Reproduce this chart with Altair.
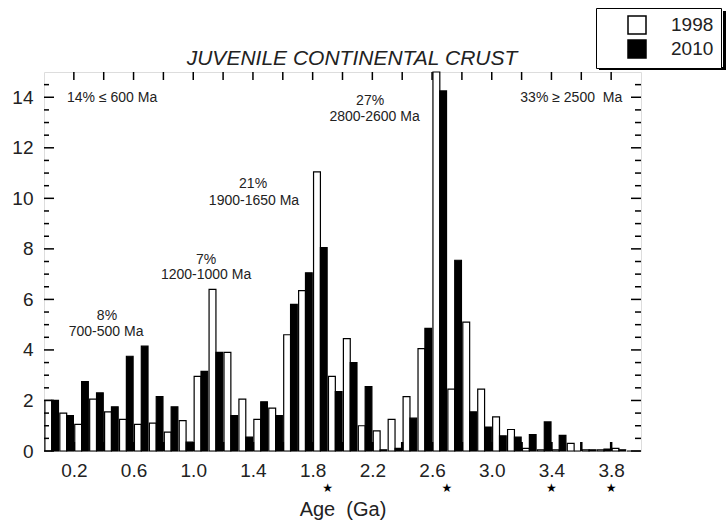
import altair as alt
import pandas as pd

# ---- data ----
bin_start = [0.0, 0.1, 0.2, 0.3, 0.4, 0.5, 0.6, 0.7, 0.8, 0.9,
             1.0, 1.1, 1.2, 1.3, 1.4, 1.5, 1.6, 1.7, 1.8, 1.9,
             2.0, 2.1, 2.2, 2.3, 2.4, 2.5, 2.6, 2.7, 2.8, 2.9,
             3.0, 3.1, 3.2, 3.3, 3.4, 3.5, 3.6, 3.7, 3.8, 3.9]
v1998 = [2.0, 1.5, 1.05, 2.05, 1.55, 1.25, 1.05, 1.1, 0.75, 1.2,
         2.95, 6.4, 3.9, 2.05, 1.25, 1.7, 4.6, 6.35, 11.05, 2.95,
         4.45, 1.0, 0.8, 1.25, 2.15, 4.05, 15.0, 2.45, 5.1, 2.45,
         1.35, 0.85, 0.1, 0.05, 0.05, 0.3, 0.05, 0.05, 0.1, 0.0]
v2010 = [2.0, 1.4, 2.75, 2.3, 1.75, 3.75, 4.15, 2.15, 1.75, 0.35,
         3.15, 3.9, 1.4, 0.55, 1.95, 1.4, 5.8, 7.05, 8.05, 2.35,
         3.5, 2.55, 0.05, 0.1, 1.3, 4.85, 14.25, 7.55, 1.55, 0.95,
         0.6, 0.55, 0.65, 1.15, 0.62, 0.0, 0.05, 0.08, 0.05, 0.0]
series_names = ["1998", "2010"]

x_tick_labels = [0.2, 0.6, 1.0, 1.4, 1.8, 2.2, 2.6, 3.0, 3.4, 3.8]
x_ticks = [0.2, 0.4, 0.6, 0.8, 1.0, 1.2, 1.4, 1.6, 1.8, 2.0,
           2.2, 2.4, 2.6, 2.8, 3.0, 3.2, 3.4, 3.6, 3.8]
y_major = [0, 2, 4, 6, 8, 10, 12, 14]
y_minor = [0.5, 1, 1.5, 2.5, 3, 3.5, 4.5, 5, 5.5, 6.5, 7, 7.5, 8.5, 9, 9.5,
           10.5, 11, 11.5, 12.5, 13, 13.5, 14.5]

title_text = "JUVENILE CONTINENTAL CRUST"
x_title = "Age\u00a0\u00a0(Ga)"

ann_text = ["14% \u2264 600 Ma", "8%", "700-500 Ma", "7%", "1200-1000 Ma",
            "21%", "1900-1650 Ma", "27%", "2800-2600 Ma"]
ann_x = [0.154, 0.422, 0.416, 1.086, 1.086, 1.401, 1.407, 2.185, 2.215]
ann_y = [13.98, 5.33, 4.70, 7.56, 6.95, 10.55, 9.88, 13.84, 13.21]
ann_align = ["left", "center", "center", "center", "center",
             "center", "center", "center", "center"]
ann_right_text = ["33% \u2265 2500\u00a0\u00a0Ma"]
ann_right_x = [3.874]
ann_right_y = [13.98]

star_x = [1.9, 2.7, 3.4, 3.8]

W, H = 597, 379
FONT = "Liberation Sans"
INK = "#222"

rows = []
for b, a, c in zip(bin_start, v1998, v2010):
    rows.append({"bin": b, "series": series_names[0], "value": a})
    rows.append({"bin": b, "series": series_names[1], "value": c})
df = pd.DataFrame(rows)

xs = alt.Scale(domain=[0, 4.0], nice=False, zero=False)
ys = alt.Scale(domain=[0, 15], nice=False)

bars = alt.Chart(df).transform_calculate(
    x0="datum.series == '1998' ? datum.bin + 0.006 : datum.bin + 0.052",
    x1="datum.series == '1998' ? datum.bin + 0.052 : datum.bin + 0.097",
).mark_rect(stroke="black", strokeWidth=1.2).encode(
    x=alt.X("x0:Q", scale=xs, title=x_title,
            axis=alt.Axis(values=x_tick_labels, format=".1f", ticks=False,
                          domain=False, grid=False, labelFontSize=19,
                          labelPadding=10, titleFontSize=20,
                          titleFontWeight="normal", titlePadding=19,
                          labelFont=FONT, titleFont=FONT,
                          labelColor=INK, titleColor=INK)),
    x2="x1:Q",
    y=alt.Y("value:Q", scale=ys, title=None,
            axis=alt.Axis(values=y_major, ticks=False, domain=False,
                          grid=False, labelFontSize=19, labelPadding=11,
                          labelFont=FONT, labelColor=INK)),
    y2=alt.datum(0),
    fill=alt.Fill("series:N",
                  scale=alt.Scale(domain=series_names, range=["white", "black"]),
                  legend=alt.Legend(orient="none", legendX=552, legendY=-64,
                                    title=None, symbolType="square",
                                    symbolSize=324, symbolStrokeColor="black",
                                    symbolStrokeWidth=1.5, labelFontSize=19,
                                    labelFont=FONT, labelColor=INK,
                                    padding=7, strokeColor="black",
                                    fillColor="white", symbolOffset=24,
                                    labelOffset=24, rowPadding=0)),
)

xt = pd.DataFrame({"t": x_ticks})
bottom_ticks = alt.Chart(xt).mark_rule(color="black", strokeWidth=2.5).encode(
    x=alt.X("t:Q", scale=xs), y=alt.value(H), y2=alt.value(H - 9))
top_ticks = alt.Chart(xt).mark_rule(color="black", strokeWidth=1.5).encode(
    x=alt.X("t:Q", scale=xs), y=alt.value(0), y2=alt.value(8))

ymj = pd.DataFrame({"t": y_major})
ymn = pd.DataFrame({"t": y_minor})
left_major = alt.Chart(ymj).mark_rule(color="black", strokeWidth=1.5).encode(
    y=alt.Y("t:Q", scale=ys), x=alt.value(0), x2=alt.value(10))
left_minor = alt.Chart(ymn).mark_rule(color="black", strokeWidth=1.5).encode(
    y=alt.Y("t:Q", scale=ys), x=alt.value(0), x2=alt.value(5))
right_major = alt.Chart(ymj).mark_rule(color="black", strokeWidth=1.5).encode(
    y=alt.Y("t:Q", scale=ys), x=alt.value(W), x2=alt.value(W - 10))
right_minor = alt.Chart(ymn).mark_rule(color="black", strokeWidth=1.5).encode(
    y=alt.Y("t:Q", scale=ys), x=alt.value(W), x2=alt.value(W - 6))

ann = pd.DataFrame({"text": ann_text, "x": ann_x, "y": ann_y, "align": ann_align})
ann_left = alt.Chart(ann[ann["align"] == "left"]).mark_text(
    align="left", baseline="middle", fontSize=14, font=FONT, color=INK).encode(
    x=alt.X("x:Q", scale=xs), y=alt.Y("y:Q", scale=ys), text="text:N")
ann_center = alt.Chart(ann[ann["align"] == "center"]).mark_text(
    align="center", baseline="middle", fontSize=14, font=FONT, color=INK).encode(
    x=alt.X("x:Q", scale=xs), y=alt.Y("y:Q", scale=ys), text="text:N")
annr = pd.DataFrame({"text": ann_right_text, "x": ann_right_x, "y": ann_right_y})
ann_right = alt.Chart(annr).mark_text(
    align="right", baseline="middle", fontSize=14, font=FONT, color=INK).encode(
    x=alt.X("x:Q", scale=xs), y=alt.Y("y:Q", scale=ys), text="text:N")

stars = alt.Chart(pd.DataFrame({"x": star_x})).mark_text(
    text="\u2605", fontSize=12, font="DejaVu Sans", color="black",
    baseline="middle", align="center").encode(
    x=alt.X("x:Q", scale=xs), y=alt.value(416))

title = alt.Chart(pd.DataFrame({"text": [title_text]})).mark_text(
    fontSize=21, fontStyle="italic", font=FONT, color=INK,
    align="center", baseline="alphabetic").encode(
    text="text:N", x=alt.value(308), y=alt.value(-7))

one = pd.DataFrame({"a": [0]})
shadow_r = alt.Chart(one).mark_rect(color="black").encode(
    x=alt.value(679), x2=alt.value(682), y=alt.value(-61), y2=alt.value(-2))
shadow_b = alt.Chart(one).mark_rect(color="black").encode(
    x=alt.value(555), x2=alt.value(682), y=alt.value(-5), y2=alt.value(-2))

chart = alt.layer(
    bars, bottom_ticks, top_ticks, left_major, left_minor, right_major, right_minor,
    ann_left, ann_center, ann_right, stars, title, shadow_r, shadow_b
).properties(
    width=W, height=H,
    autosize=alt.AutoSizeParams(type="none"),
    padding={"left": 44, "top": 72, "right": 86, "bottom": 72},
    background="white",
).configure_view(stroke="black", strokeWidth=2).configure(font=FONT)

chart.save("out.html", embed_options={"renderer": "svg", "actions": False})
